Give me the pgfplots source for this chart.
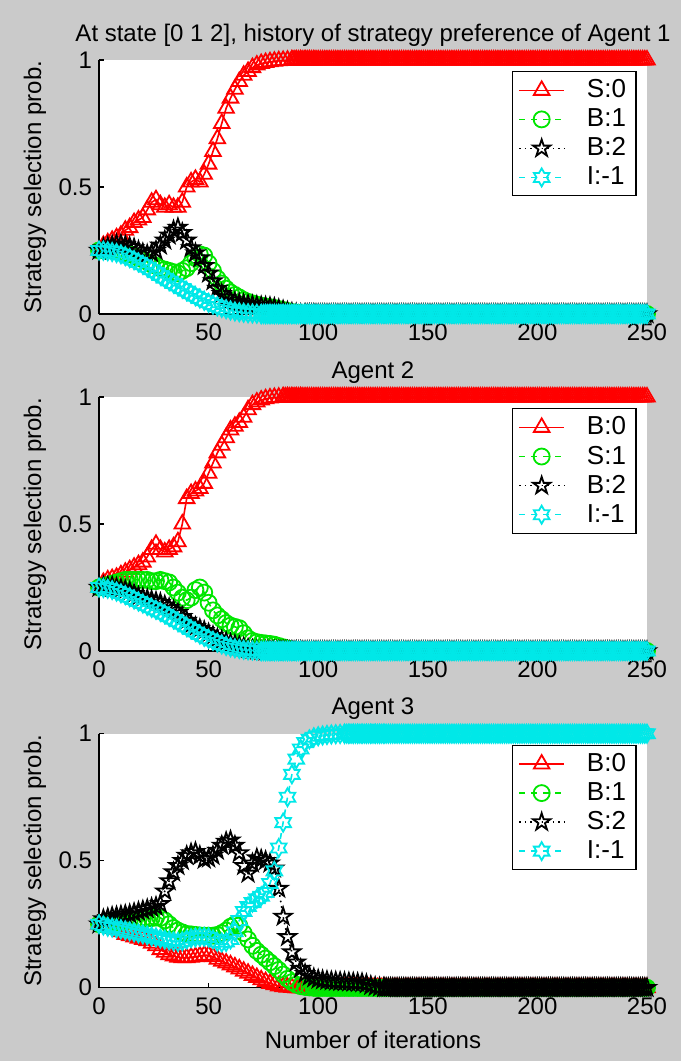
\documentclass[border=0pt]{standalone}
\usepackage{pgfplots}
\usepackage{pgfplotstable}
\pgfplotsset{compat=1.18}
\usepackage{fontspec}
\setmainfont{Liberation Sans}
\newcommand{\fs}{\fontsize{12pt}{14pt}\selectfont}
\newcommand{\fl}{\fontsize{13pt}{15pt}\selectfont}
\definecolor{figbg}{RGB}{202,202,202}
\definecolor{mred}{RGB}{255,0,0}
\definecolor{mgreen}{RGB}{0,230,0}
\definecolor{mcyan}{RGB}{0,232,232}

\pgfdeclareplotmark{pentagram}{%
\pgfpathmoveto{\pgfpointpolar{90}{\pgfplotmarksize}}%
\pgfpathlineto{\pgfpointpolar{126}{0.382*\pgfplotmarksize}}%
\pgfpathlineto{\pgfpointpolar{162}{\pgfplotmarksize}}%
\pgfpathlineto{\pgfpointpolar{198}{0.382*\pgfplotmarksize}}%
\pgfpathlineto{\pgfpointpolar{234}{\pgfplotmarksize}}%
\pgfpathlineto{\pgfpointpolar{270}{0.382*\pgfplotmarksize}}%
\pgfpathlineto{\pgfpointpolar{306}{\pgfplotmarksize}}%
\pgfpathlineto{\pgfpointpolar{342}{0.382*\pgfplotmarksize}}%
\pgfpathlineto{\pgfpointpolar{18}{\pgfplotmarksize}}%
\pgfpathlineto{\pgfpointpolar{54}{0.382*\pgfplotmarksize}}%
\pgfpathclose\pgfusepathqstroke}
\pgfdeclareplotmark{hexagram}{%
\pgfpathmoveto{\pgfpointpolar{90}{\pgfplotmarksize}}%
\pgfpathlineto{\pgfpointpolar{120}{0.577*\pgfplotmarksize}}%
\pgfpathlineto{\pgfpointpolar{150}{\pgfplotmarksize}}%
\pgfpathlineto{\pgfpointpolar{180}{0.577*\pgfplotmarksize}}%
\pgfpathlineto{\pgfpointpolar{210}{\pgfplotmarksize}}%
\pgfpathlineto{\pgfpointpolar{240}{0.577*\pgfplotmarksize}}%
\pgfpathlineto{\pgfpointpolar{270}{\pgfplotmarksize}}%
\pgfpathlineto{\pgfpointpolar{300}{0.577*\pgfplotmarksize}}%
\pgfpathlineto{\pgfpointpolar{330}{\pgfplotmarksize}}%
\pgfpathlineto{\pgfpointpolar{0}{0.577*\pgfplotmarksize}}%
\pgfpathlineto{\pgfpointpolar{30}{\pgfplotmarksize}}%
\pgfpathlineto{\pgfpointpolar{60}{0.577*\pgfplotmarksize}}%
\pgfpathclose\pgfusepathqstroke}

\pgfplotstableread{
x r g k c
0 0.25 0.25 0.25 0.25
2 0.27 0.25 0.26 0.249
4 0.28 0.25 0.265 0.247
6 0.29 0.25 0.27 0.244
8 0.30 0.25 0.275 0.24
10 0.31 0.245 0.275 0.235
12 0.33 0.24 0.27 0.228
14 0.34 0.235 0.265 0.22
16 0.36 0.23 0.26 0.212
18 0.37 0.22 0.25 0.203
20 0.38 0.215 0.24 0.194
22 0.41 0.205 0.235 0.184
24 0.44 0.195 0.24 0.174
26 0.45 0.19 0.25 0.163
28 0.43 0.18 0.27 0.152
30 0.42 0.175 0.29 0.141
32 0.43 0.17 0.31 0.13
34 0.42 0.165 0.33 0.12
36 0.42 0.16 0.34 0.11
38 0.44 0.17 0.32 0.1
40 0.50 0.18 0.29 0.09
42 0.52 0.2 0.26 0.08
44 0.53 0.22 0.24 0.07
46 0.52 0.235 0.22 0.061
48 0.55 0.23 0.19 0.052
50 0.59 0.2 0.16 0.044
52 0.64 0.17 0.13 0.037
54 0.69 0.14 0.10 0.03
56 0.75 0.12 0.08 0.024
58 0.81 0.10 0.065 0.019
60 0.85 0.085 0.055 0.014
62 0.885 0.075 0.048 0.01
64 0.915 0.065 0.043 0.007
66 0.94 0.055 0.04 0.005
68 0.955 0.048 0.037 0.003
70 0.97 0.042 0.035 0.002
72 0.98 0.037 0.033 0.001
74 0.986 0.033 0.031 0
76 0.99 0.03 0.03 0
78 0.993 0.027 0.028 0
80 0.995 0.024 0.025 0
82 0.997 0.02 0.02 0
84 0.998 0.016 0.015 0
86 0.999 0.012 0.01 0
88 1 0.008 0.006 0
90 1 0.005 0.003 0
92 1 0.003 0.001 0
94 1 0.002 0 0
96 1 0.001 0 0
98 1 0 0 0
}\tA

\pgfplotstableread{
x r g k c
0 0.25 0.25 0.25 0.25
2 0.27 0.255 0.255 0.248
4 0.28 0.26 0.255 0.245
6 0.285 0.265 0.255 0.24
8 0.29 0.27 0.25 0.234
10 0.30 0.275 0.245 0.227
12 0.31 0.28 0.24 0.22
14 0.32 0.28 0.235 0.212
16 0.33 0.28 0.225 0.203
18 0.34 0.28 0.215 0.195
20 0.35 0.28 0.21 0.187
22 0.37 0.28 0.205 0.178
24 0.40 0.275 0.2 0.17
26 0.42 0.275 0.195 0.162
28 0.40 0.28 0.19 0.154
30 0.39 0.275 0.18 0.145
32 0.40 0.27 0.17 0.135
34 0.41 0.25 0.16 0.125
36 0.43 0.23 0.15 0.115
38 0.50 0.21 0.135 0.105
40 0.60 0.2 0.12 0.095
42 0.62 0.21 0.105 0.085
44 0.63 0.24 0.095 0.075
46 0.64 0.25 0.088 0.065
48 0.66 0.23 0.08 0.056
50 0.70 0.19 0.07 0.048
52 0.74 0.16 0.06 0.04
54 0.78 0.14 0.05 0.033
56 0.81 0.125 0.042 0.026
58 0.84 0.11 0.036 0.02
60 0.87 0.10 0.03 0.015
62 0.885 0.095 0.025 0.011
64 0.90 0.09 0.02 0.008
66 0.92 0.07 0.015 0.005
68 0.95 0.05 0.01 0.003
70 0.97 0.04 0.006 0.002
72 0.98 0.035 0.003 0.001
74 0.988 0.032 0.001 0
76 0.993 0.03 0 0
78 0.996 0.028 0 0
80 0.998 0.025 0 0
82 0.999 0.02 0 0
84 1 0.015 0 0
86 1 0.01 0 0
88 1 0.005 0 0
90 1 0.002 0 0
92 1 0 0 0
}\tB

\pgfplotstableread{
x r g k c
0 0.25 0.25 0.25 0.25
2 0.245 0.252 0.27 0.245
4 0.24 0.254 0.275 0.24
6 0.235 0.256 0.28 0.237
8 0.23 0.258 0.282 0.234
10 0.22 0.26 0.285 0.23
12 0.21 0.262 0.288 0.226
14 0.205 0.264 0.29 0.222
16 0.2 0.266 0.295 0.218
18 0.195 0.268 0.3 0.214
20 0.19 0.27 0.305 0.21
22 0.185 0.272 0.31 0.206
24 0.175 0.274 0.315 0.202
26 0.165 0.276 0.32 0.198
28 0.15 0.275 0.33 0.194
30 0.14 0.265 0.38 0.19
32 0.13 0.25 0.42 0.186
34 0.125 0.235 0.455 0.183
36 0.12 0.225 0.48 0.18
38 0.118 0.218 0.5 0.183
40 0.118 0.212 0.52 0.19
42 0.12 0.21 0.53 0.195
44 0.122 0.208 0.535 0.198
46 0.125 0.206 0.52 0.2
48 0.128 0.205 0.505 0.2
50 0.128 0.205 0.51 0.198
52 0.122 0.205 0.52 0.19
54 0.112 0.208 0.54 0.18
56 0.104 0.215 0.56 0.178
58 0.097 0.225 0.575 0.18
60 0.09 0.24 0.58 0.19
62 0.082 0.25 0.56 0.22
64 0.074 0.245 0.53 0.265
66 0.065 0.215 0.48 0.3
68 0.057 0.19 0.45 0.32
70 0.048 0.165 0.49 0.335
72 0.04 0.145 0.51 0.35
74 0.031 0.13 0.505 0.36
76 0.024 0.115 0.5 0.375
78 0.017 0.1 0.49 0.41
80 0.012 0.085 0.47 0.46
82 0.007 0.07 0.39 0.55
84 0.004 0.052 0.28 0.65
86 0.002 0.035 0.2 0.75
88 0.001 0.022 0.14 0.84
90 0 0.012 0.1 0.9
92 0 0.006 0.075 0.94
94 0 0.003 0.055 0.965
96 0 0.001 0.045 0.978
98 0 0 0.038 0.986
100 0 0 0.033 0.99
102 0 0 0.03 0.993
104 0 0 0.028 0.995
106 0 0 0.026 0.997
108 0 0 0.025 0.998
110 0 0 0.024 0.999
112 0 0 0.023 1
114 0 0 0.022 1
116 0 0 0.021 1
118 0 0 0.02 1
120 0 0 0.019 1
122 0 0 0.015 1
124 0 0 0.008 1
126 0 0 0.004 1
128 0 0 0.002 1
130 0 0 0.001 1
}\tC

\pgfplotstableread{
x z o
74 0 1
75 0 1
76 0 1
77 0 1
78 0 1
79 0 1
80 0 1
81 0 1
82 0 1
83 0 1
84 0 1
85 0 1
86 0 1
87 0 1
88 0 1
89 0 1
90 0 1
91 0 1
92 0 1
93 0 1
94 0 1
95 0 1
96 0 1
97 0 1
98 0 1
99 0 1
100 0 1
101 0 1
102 0 1
103 0 1
104 0 1
105 0 1
106 0 1
107 0 1
108 0 1
109 0 1
110 0 1
111 0 1
112 0 1
113 0 1
114 0 1
115 0 1
116 0 1
117 0 1
118 0 1
119 0 1
120 0 1
121 0 1
122 0 1
123 0 1
124 0 1
125 0 1
126 0 1
127 0 1
128 0 1
129 0 1
130 0 1
131 0 1
132 0 1
133 0 1
134 0 1
135 0 1
136 0 1
137 0 1
138 0 1
139 0 1
140 0 1
141 0 1
142 0 1
143 0 1
144 0 1
145 0 1
146 0 1
147 0 1
148 0 1
149 0 1
150 0 1
151 0 1
152 0 1
153 0 1
154 0 1
155 0 1
156 0 1
157 0 1
158 0 1
159 0 1
160 0 1
161 0 1
162 0 1
163 0 1
164 0 1
165 0 1
166 0 1
167 0 1
168 0 1
169 0 1
170 0 1
171 0 1
172 0 1
173 0 1
174 0 1
175 0 1
176 0 1
177 0 1
178 0 1
179 0 1
180 0 1
181 0 1
182 0 1
183 0 1
184 0 1
185 0 1
186 0 1
187 0 1
188 0 1
189 0 1
190 0 1
191 0 1
192 0 1
193 0 1
194 0 1
195 0 1
196 0 1
197 0 1
198 0 1
199 0 1
200 0 1
201 0 1
202 0 1
203 0 1
204 0 1
205 0 1
206 0 1
207 0 1
208 0 1
209 0 1
210 0 1
211 0 1
212 0 1
213 0 1
214 0 1
215 0 1
216 0 1
217 0 1
218 0 1
219 0 1
220 0 1
221 0 1
222 0 1
223 0 1
224 0 1
225 0 1
226 0 1
227 0 1
228 0 1
229 0 1
230 0 1
231 0 1
232 0 1
233 0 1
234 0 1
235 0 1
236 0 1
237 0 1
238 0 1
239 0 1
240 0 1
241 0 1
242 0 1
243 0 1
244 0 1
245 0 1
246 0 1
247 0 1
248 0 1
249 0 1
250 0 1
}\tT

\pgfplotsset{
 sr/.style={color=mred, solid, line width=0.8pt, mark=triangle, mark size=4.5pt, mark options={solid, line width=0.9pt}},
 sg/.style={color=mgreen, dashed, line width=0.8pt, mark=o, mark size=4pt, mark options={solid, line width=0.9pt}},
 sk/.style={color=black, dotted, line width=0.8pt, mark=pentagram, mark size=4.5pt, mark options={solid, line width=0.9pt}},
 sc/.style={color=mcyan, dashed, line width=0.8pt, mark=hexagram, mark size=4.5pt, mark options={solid, line width=0.9pt}},
 panel/.style={
  scale only axis, width=274pt, height=127pt,
  xmin=0, xmax=250, ymin=0, ymax=1,
  axis x line=bottom, axis y line=left,
  axis line style={-, line width=0.6pt, black},
  xtick={0,50,100,150,200,250}, ytick={0,0.5,1},
  tick align=inside, major tick length=2.5pt,
  tick style={black, line width=0.6pt},
  clip=false,
  axis background/.style={fill=white},
  /pgf/number format/assume math mode=true,
  ticklabel style={font=\fs},
  xticklabel style={yshift=-1.4pt},
  every axis title/.style={at={(0.5,1)}, anchor=base, yshift=9.5pt, font=\fs},
  every axis y label/.style={at={(axis description cs:-0.1058,0.5)}, rotate=90, anchor=base, font=\fs},
  every axis x label/.style={at={(axis description cs:0.5,-0.2406)}, anchor=base, font=\fs},
  ylabel={Strategy selection prob.},
  legend style={at={(0.981,0.956)}, anchor=north east, draw=black, line width=0.6pt, fill=white,
    font=\fl, row sep=0pt, column sep=9pt, inner xsep=3pt, inner ysep=2pt},
  legend cell align=left,
  legend image code/.code={\draw[mark repeat=2,mark phase=2,##1] plot coordinates {(0pt,0pt) (11.25pt,0pt) (22.5pt,0pt)};},
 }
}

\begin{document}
\begin{tikzpicture}
\fill[figbg] (0,0) rectangle (340.5pt,-530.5pt);

\begin{axis}[panel, at={(49.5pt,-157pt)}, anchor=south west,
  title={At state [0 1 2], history of strategy preference of Agent 1}]
\addplot[sr] table[x=x,y=r]{\tA};
\addplot[sr, forget plot, restrict x to domain=88:250] table[x=x,y=o]{\tT};
\addplot[sg] table[x=x,y=g]{\tA};
\addplot[sg, forget plot, restrict x to domain=98:250] table[x=x,y=z]{\tT};
\addplot[sk] table[x=x,y=k]{\tA};
\addplot[sk, forget plot, restrict x to domain=94:250] table[x=x,y=z]{\tT};
\addplot[sc] table[x=x,y=c]{\tA};
\addplot[sc, forget plot, restrict x to domain=74:250] table[x=x,y=z]{\tT};
\legend{S:0,B:1,B:2,I:-1}
\end{axis}

\begin{axis}[panel, at={(49.5pt,-325.5pt)}, anchor=south west,
  title={Agent 2}]
\addplot[sr] table[x=x,y=r]{\tB};
\addplot[sr, forget plot, restrict x to domain=84:250] table[x=x,y=o]{\tT};
\addplot[sg] table[x=x,y=g]{\tB};
\addplot[sg, forget plot, restrict x to domain=92:250] table[x=x,y=z]{\tT};
\addplot[sk] table[x=x,y=k]{\tB};
\addplot[sk, forget plot, restrict x to domain=76:250] table[x=x,y=z]{\tT};
\addplot[sc] table[x=x,y=c]{\tB};
\addplot[sc, forget plot, restrict x to domain=74:250] table[x=x,y=z]{\tT};
\legend{B:0,S:1,B:2,I:-1}
\end{axis}

\begin{axis}[panel, at={(49.5pt,-493.85pt)}, anchor=south west,
  title={Agent 3}, xlabel={Number of iterations}]
\addplot[sr] table[x=x,y=r]{\tC};
\addplot[sr, forget plot, restrict x to domain=90:250] table[x=x,y=z]{\tT};
\addplot[sg] table[x=x,y=g]{\tC};
\addplot[sg, forget plot, restrict x to domain=98:250] table[x=x,y=z]{\tT};
\addplot[sk] table[x=x,y=k]{\tC};
\addplot[sk, forget plot, restrict x to domain=130:250] table[x=x,y=z]{\tT};
\addplot[sc] table[x=x,y=c]{\tC};
\addplot[sc, forget plot, restrict x to domain=112:250] table[x=x,y=o]{\tT};
\legend{B:0,B:1,S:2,I:-1}
\end{axis}

\pgfresetboundingbox
\path[use as bounding box] (0,0) rectangle (340.5pt,-530.5pt);
\end{tikzpicture}
\end{document}
